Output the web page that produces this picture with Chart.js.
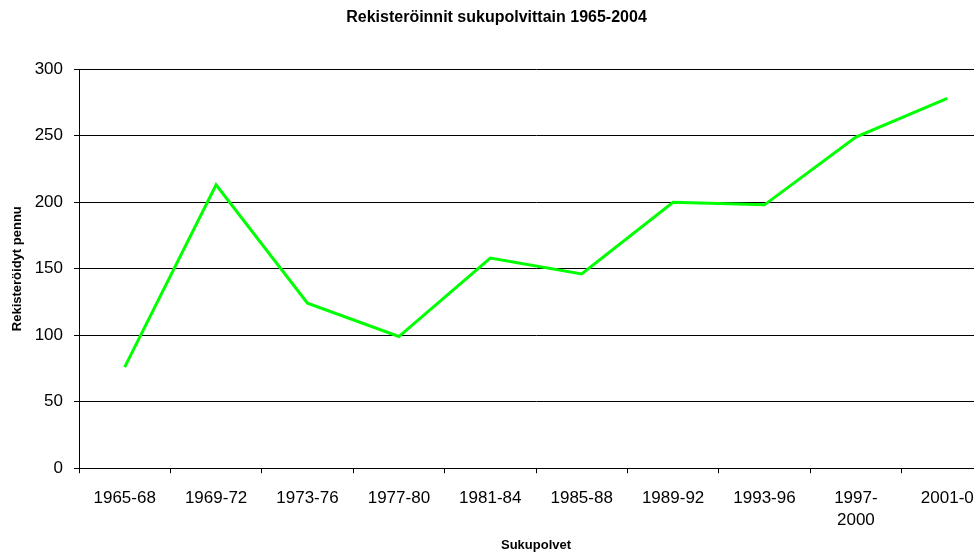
<!DOCTYPE html>
<html>
<head>
<meta charset="utf-8">
<script src="https://cdn.jsdelivr.net/npm/chart.js@4.4.0/dist/chart.umd.min.js"></script>
<style>
html,body{margin:0;padding:0;background:#fff;overflow:hidden;}
#wrap{width:1000px;height:554px;}
</style>
</head>
<body>
<div id="wrap"><canvas id="c" width="1000" height="554"></canvas></div>
<script>
const categories = ['1965-68','1969-72','1973-76','1977-80','1981-84','1985-88','1989-92','1993-96',['1997-','2000'],'2001-0'];
const registrations = [76, 213, 124, 99, 158, 146, 200, 198, 249, 278];
const yTicks = [0, 50, 100, 150, 200, 250, 300];
const chartTitle = 'Rekisteröinnit sukupolvittain 1965-2004';
const yTitle = 'Rekisteröidyt pennu';
const xTitle = 'Sukupolvet';

const FONT = '"Liberation Sans", Arial, sans-serif';
Chart.defaults.font.family = FONT;
Chart.defaults.color = '#000';

new Chart(document.getElementById('c'), {
  type: 'line',
  data: {
    labels: categories,
    datasets: [{
      data: registrations,
      borderColor: '#00ff00',
      borderWidth: 3,
      pointRadius: 0,
      tension: 0,
      fill: false
    }]
  },
  options: {
    responsive: false,
    animation: false,
    layout: { padding: { left: 0, right: 7, top: 8, bottom: 1 } },
    plugins: {
      legend: { display: false },
      tooltip: { enabled: false },
      title: {
        display: true,
        text: chartTitle,
        font: { size: 16, weight: 'bold' },
        color: '#000',
        padding: { top: 0, bottom: 42 }
      }
    },
    scales: {
      x: {
        offset: true,
        grid: { offset: true, drawOnChartArea: false, drawTicks: true, tickLength: 5, color: '#000' },
        border: { display: true, color: '#000', width: 1 },
        ticks: { font: { size: 17, lineHeight: 1.3 }, color: '#000', maxRotation: 0, autoSkip: false, padding: 14 },
        title: { display: true, text: xTitle, font: { size: 13, weight: 'bold' }, color: '#000', padding: { top: -8, bottom: 0 } }
      },
      y: {
        min: 0, max: 300,
        afterBuildTicks: (s) => { s.ticks = yTicks.map(v => ({ value: v })); },
        afterFit: (s) => { s.width = 79; },
        grid: { color: '#000', tickLength: 5, lineWidth: 1 },
        border: { display: true, color: '#000', width: 1 },
        ticks: { font: { size: 17 }, color: '#000', padding: 11 },
        title: { display: true, text: yTitle, font: { size: 13, weight: 'bold' }, color: '#000', padding: { top: 10, bottom: 0 } }
      }
    }
  }
});
</script>
</body>
</html>
